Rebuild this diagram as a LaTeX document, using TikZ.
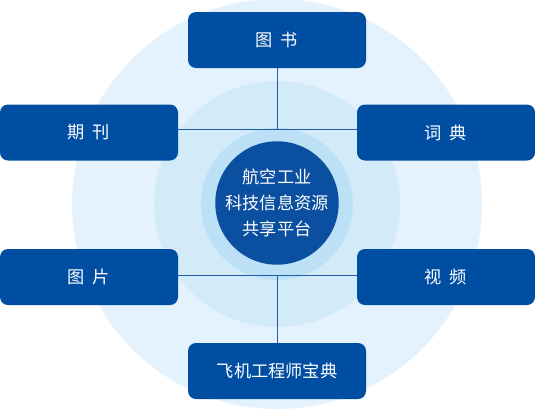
\documentclass[tikz,border=0pt]{standalone}
\usepackage{fontspec}
\newfontfamily\cjk{Noto Sans CJK SC}
\usetikzlibrary{positioning}
\definecolor{navy}    {HTML}{004EA2}
\definecolor{core}    {HTML}{0A4FA0}
\definecolor{wire}    {HTML}{1F5CAA}
\definecolor{haloout} {HTML}{E3F2FC}
\definecolor{halomid} {HTML}{D3EAF9}
\definecolor{haloin}  {HTML}{BCE1F7}
\tikzset{
  tile/.style   = {fill=navy, rounded corners=8pt, minimum width=178pt,
                   minimum height=56pt, inner sep=0pt, text=white,
                   font=\cjk\fontsize{17.2}{20}\selectfont},
  hub/.style    = {circle, fill=core, minimum size=120pt, inner sep=0pt,
                   text=white, align=center,
                   font=\cjk\fontsize{17.2}{26}\selectfont},
  link/.style   = {draw=wire, line width=1pt},
}
\newcommand{\gap}{\hspace{0.45em}}

\begin{document}
\begin{tikzpicture}[x=1pt, y=-1pt]
  \useasboundingbox (0,0) rectangle (535,413);

  % background halo
  \fill[haloout] (277,204) circle[radius=205pt];
  \fill[halomid] (277,204) circle[radius=123pt];
  \fill[haloin]  (277,204) circle[radius=76pt];

  % outer tiles
  \node[tile] (book)    at (277,40)    {图\gap 书};
  \node[tile] (journal) at (89,132.5)  {期\gap 刊};
  \node[tile] (dict)    at (446,132.5) {词\gap 典};
  \node[tile] (photo)   at (89,277)    {图\gap 片};
  \node[tile] (video)   at (446,277)   {视\gap 频};
  \node[tile] (manual)  at (277,371)   {飞机工程师宝典};

  % connectors
  \coordinate (upper) at (277,129.5);
  \coordinate (lower) at (277,275);
  \draw[link] (journal.east |- upper) -- (dict.west |- upper);
  \draw[link] (book.south) -- (upper);
  \draw[link] (photo.east |- lower) -- (video.west |- lower);
  \draw[link] (lower) -- (manual.north);

  % centre
  \node[hub] (platform) at (277,203) {航空工业\\科技信息资源\\共享平台};

\end{tikzpicture}
\end{document}
